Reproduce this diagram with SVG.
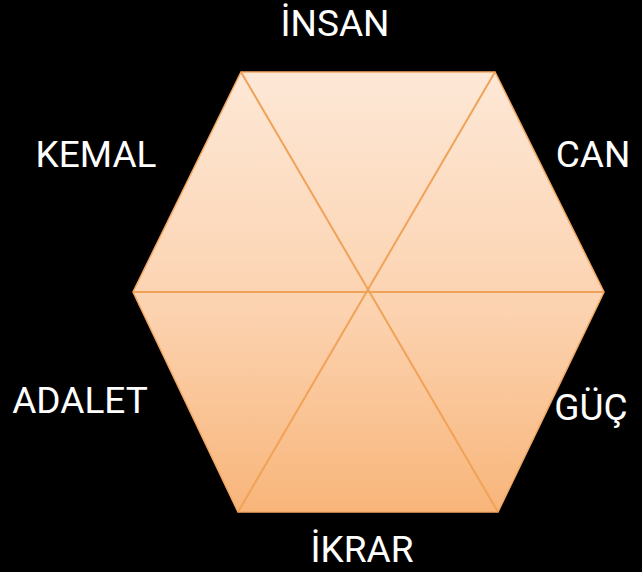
<svg xmlns="http://www.w3.org/2000/svg" width="642" height="572" viewBox="0 0 642 572">
  <defs>
    <linearGradient id="fillGrad" x1="0" y1="0" x2="0" y2="1">
      <stop offset="0" stop-color="#FDE8D6"/>
      <stop offset="0.55" stop-color="#FCD2AF"/>
      <stop offset="1" stop-color="#F8B57A"/>
    </linearGradient>
  </defs>
  <style>
    .lbl { font-family: Roboto, "Liberation Sans", sans-serif; font-size: 37px; fill: #FFFFFF; text-anchor: middle; }
    .edge { fill: none; stroke: #F0A258; stroke-width: 2; }
  </style>
  <rect width="642" height="572" fill="#000000"/>
  <g id="hexagon">
    <polygon points="241,72 495,72 604,292 498,512 238,512 133,292" fill="url(#fillGrad)" stroke="#F3A865" stroke-width="1.5"/>
  </g>
  <g id="connectors">
    <line class="edge" x1="241" y1="72" x2="498" y2="512"/>
    <line class="edge" x1="495" y1="72" x2="238" y2="512"/>
    <line class="edge" x1="133" y1="292" x2="604" y2="292"/>
  </g>
  <g id="insan"><text class="lbl" x="335" y="36">İNSAN</text></g>
  <g id="can"><text class="lbl" x="593" y="167">CAN</text></g>
  <g id="guc"><text class="lbl" x="591" y="420">GÜÇ</text></g>
  <g id="ikrar"><text class="lbl" x="362" y="562">İKRAR</text></g>
  <g id="adalet"><text class="lbl" x="80" y="413">ADALET</text></g>
  <g id="kemal"><text class="lbl" x="96" y="167">KEMAL</text></g>
</svg>
